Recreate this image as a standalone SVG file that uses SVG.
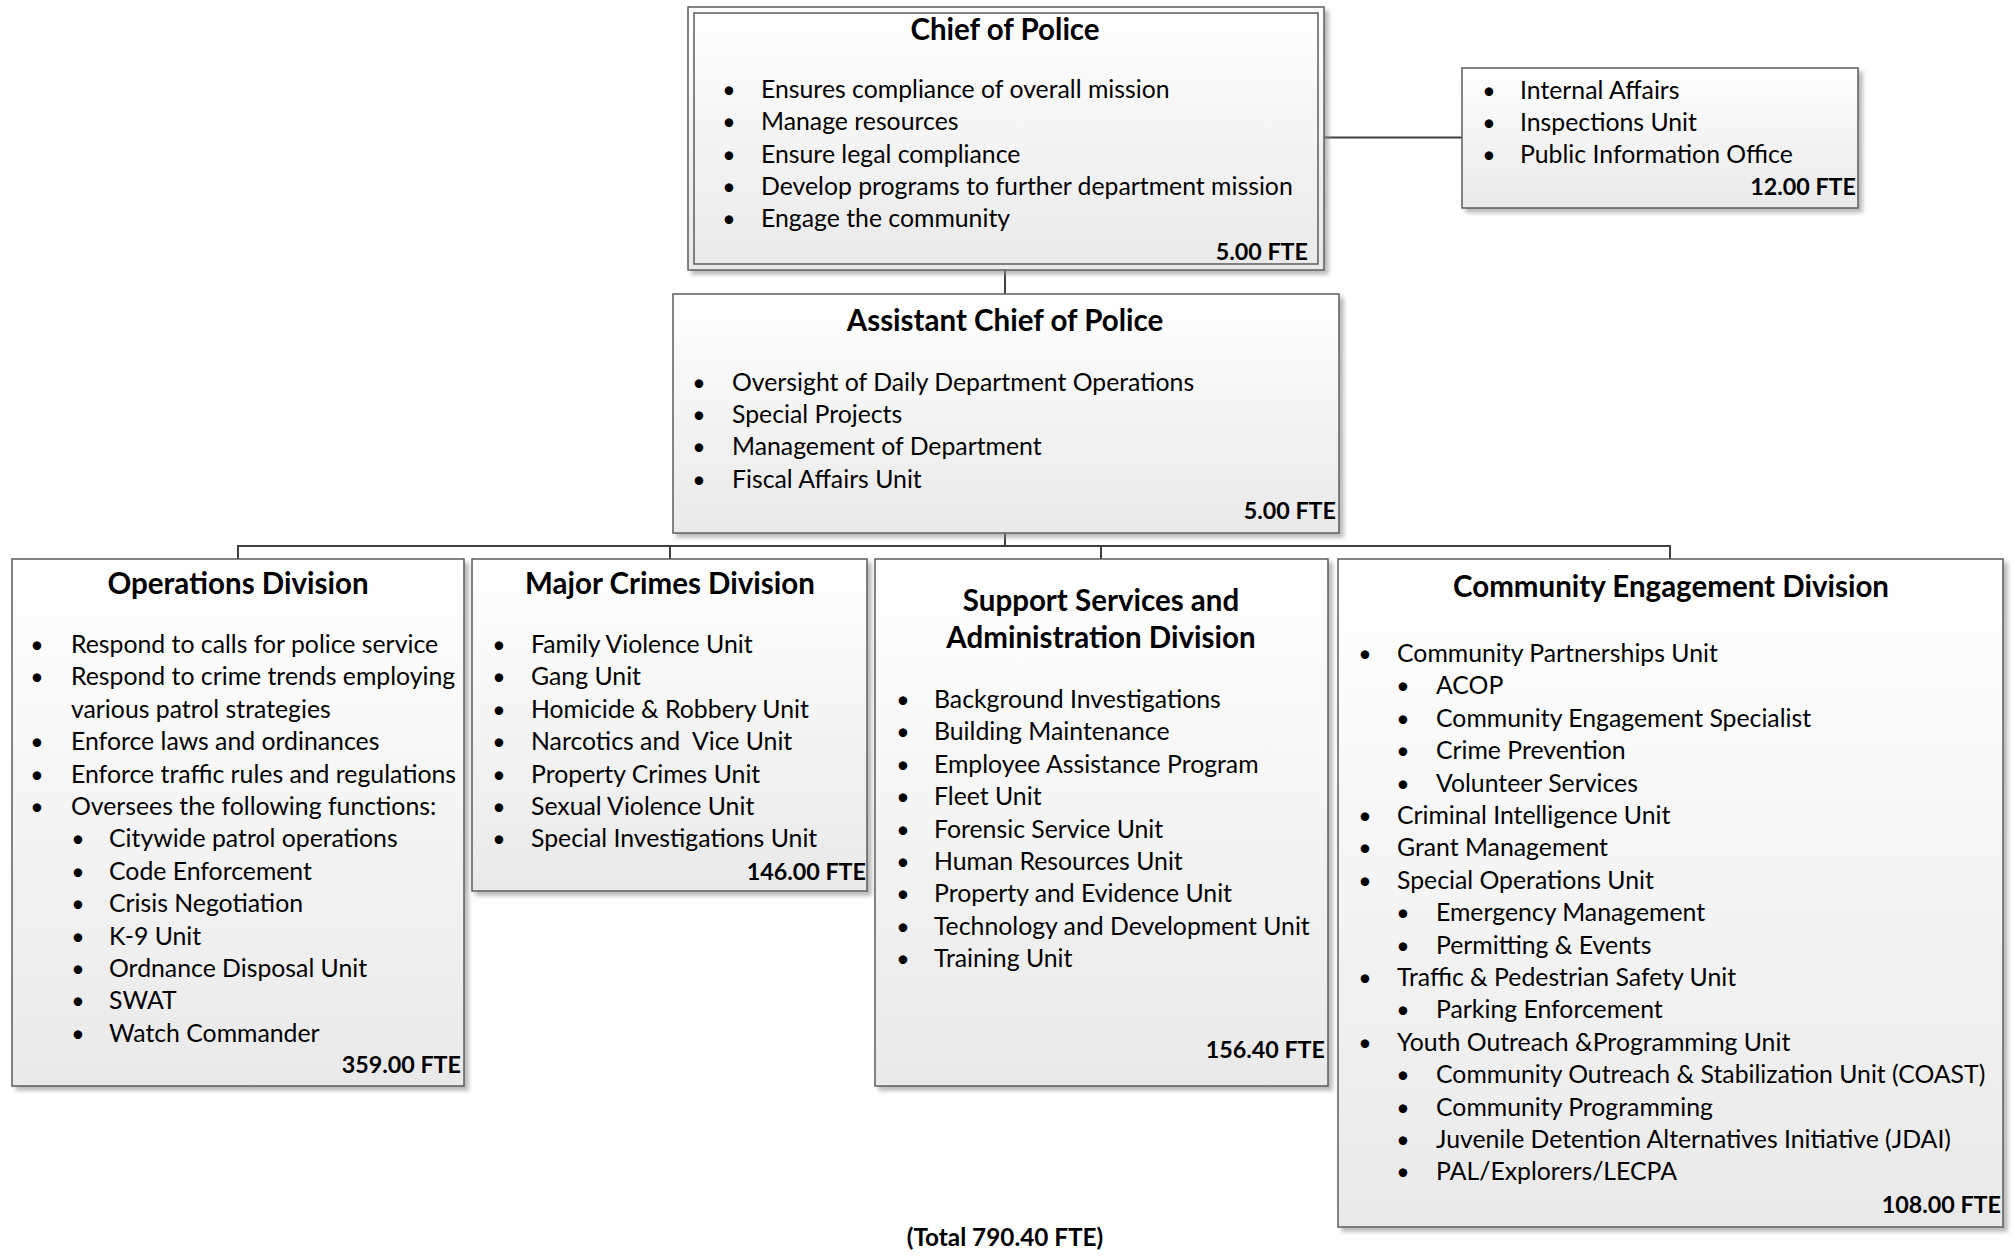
<svg xmlns="http://www.w3.org/2000/svg" width="2015" height="1256" viewBox="0 0 2015 1256">
<defs>
<linearGradient id="g" x1="0" y1="0" x2="0" y2="1">
<stop offset="0" stop-color="#ffffff"/>
<stop offset="1" stop-color="#e9e9e9"/>
</linearGradient>
<filter id="sh" x="-5%" y="-5%" width="115%" height="115%">
<feDropShadow dx="4" dy="4" stdDeviation="2" flood-color="#8c8c8c" flood-opacity="0.6"/>
</filter>
</defs>
<style>
.box{fill:url(#g);stroke:#5c5c5c;stroke-width:1.5;filter:url(#sh)}
.in{fill:none;stroke:#5c5c5c;stroke-width:1.5}
text{font-family:Lato,'Liberation Sans',sans-serif;font-size:24.8px;fill:#000;transform:translateY(2px)}
.h{font-weight:bold;font-size:29.5px;text-anchor:middle}
.f{font-weight:bold;font-size:23.3px;text-anchor:end}
.d{text-anchor:middle;font-size:23px}
.c{fill:none;stroke:#404040;stroke-width:2}
</style>
<rect width="2015" height="1256" fill="#fff"/>
<g id="connectors">
<line class="c" x1="1005" y1="270" x2="1005" y2="294"/>
<line class="c" x1="1324" y1="137.5" x2="1462" y2="137.5"/>
<line class="c" x1="1005" y1="533" x2="1005" y2="546"/>
<polyline class="c" points="238,559 238,546 1670,546 1670,559"/>
<line class="c" x1="670" y1="546" x2="670" y2="559"/>
<line class="c" x1="1101" y1="546" x2="1101" y2="559"/>
</g>
<g id="chief">
<rect class="box" x="688" y="7" width="636" height="263"/>
<rect class="in" x="694" y="13" width="624" height="251"/>
<text class="h" x="1005" y="38">Chief of Police</text>
<text class="d" x="729" y="96">•</text><text x="761" y="96">Ensures compliance of overall mission</text>
<text class="d" x="729" y="128">•</text><text x="761" y="128">Manage resources</text>
<text class="d" x="729" y="161">•</text><text x="761" y="161">Ensure legal compliance</text>
<text class="d" x="729" y="193">•</text><text x="761" y="193">Develop programs to further department mission</text>
<text class="d" x="729" y="225">•</text><text x="761" y="225">Engage the community</text>
<text class="f" x="1308" y="258">5.00 FTE</text>
</g>
<g id="internal">
<rect class="box" x="1462" y="68" width="396" height="140"/>
<text class="d" x="1489" y="97">•</text><text x="1520" y="97">Internal Affairs</text>
<text class="d" x="1489" y="129">•</text><text x="1520" y="129">Inspections Unit</text>
<text class="d" x="1489" y="161">•</text><text x="1520" y="161">Public Information Office</text>
<text class="f" x="1856" y="193">12.00 FTE</text>
</g>
<g id="assistant">
<rect class="box" x="673" y="294" width="666" height="239"/>
<text class="h" x="1005" y="329">Assistant Chief of Police</text>
<text class="d" x="699" y="389">•</text><text x="732" y="389">Oversight of Daily Department Operations</text>
<text class="d" x="699" y="421">•</text><text x="732" y="421">Special Projects</text>
<text class="d" x="699" y="453">•</text><text x="732" y="453">Management of Department</text>
<text class="d" x="699" y="486">•</text><text x="732" y="486">Fiscal Affairs Unit</text>
<text class="f" x="1336" y="517">5.00 FTE</text>
</g>
<g id="operations">
<rect class="box" x="12" y="559" width="452" height="527"/>
<text class="h" x="238" y="592">Operations Division</text>
<text class="d" x="37" y="651">•</text><text x="71" y="651">Respond to calls for police service</text>
<text class="d" x="37" y="683">•</text><text x="71" y="683">Respond to crime trends employing</text>
<text x="71" y="716">various patrol strategies</text>
<text class="d" x="37" y="748">•</text><text x="71" y="748">Enforce laws and ordinances</text>
<text class="d" x="37" y="781">•</text><text x="71" y="781">Enforce traffic rules and regulations</text>
<text class="d" x="37" y="813">•</text><text x="71" y="813">Oversees the following functions:</text>
<text class="d" x="78" y="845">•</text><text x="109" y="845">Citywide patrol operations</text>
<text class="d" x="78" y="878">•</text><text x="109" y="878">Code Enforcement</text>
<text class="d" x="78" y="910">•</text><text x="109" y="910">Crisis Negotiation</text>
<text class="d" x="78" y="943">•</text><text x="109" y="943">K-9 Unit</text>
<text class="d" x="78" y="975">•</text><text x="109" y="975">Ordnance Disposal Unit</text>
<text class="d" x="78" y="1007">•</text><text x="109" y="1007">SWAT</text>
<text class="d" x="78" y="1040">•</text><text x="109" y="1040">Watch Commander</text>
<text class="f" x="461" y="1071">359.00 FTE</text>
</g>
<g id="major">
<rect class="box" x="472" y="559" width="395" height="332"/>
<text class="h" x="670" y="592">Major Crimes Division</text>
<text class="d" x="499" y="651">•</text><text x="531" y="651">Family Violence Unit</text>
<text class="d" x="499" y="683">•</text><text x="531" y="683">Gang Unit</text>
<text class="d" x="499" y="716">•</text><text x="531" y="716">Homicide &amp; Robbery Unit</text>
<text class="d" x="499" y="748">•</text><text x="531" y="748" xml:space="preserve">Narcotics and  Vice Unit</text>
<text class="d" x="499" y="781">•</text><text x="531" y="781">Property Crimes Unit</text>
<text class="d" x="499" y="813">•</text><text x="531" y="813">Sexual Violence Unit</text>
<text class="d" x="499" y="845">•</text><text x="531" y="845">Special Investigations Unit</text>
<text class="f" x="866" y="878">146.00 FTE</text>
</g>
<g id="support">
<rect class="box" x="875" y="559" width="453" height="527"/>
<text class="h" x="1101" y="609">Support Services and</text>
<text class="h" x="1101" y="646">Administration Division</text>
<text class="d" x="903" y="706">•</text><text x="934" y="706">Background Investigations</text>
<text class="d" x="903" y="738">•</text><text x="934" y="738">Building Maintenance</text>
<text class="d" x="903" y="771">•</text><text x="934" y="771">Employee Assistance Program</text>
<text class="d" x="903" y="803">•</text><text x="934" y="803">Fleet Unit</text>
<text class="d" x="903" y="836">•</text><text x="934" y="836">Forensic Service Unit</text>
<text class="d" x="903" y="868">•</text><text x="934" y="868">Human Resources Unit</text>
<text class="d" x="903" y="900">•</text><text x="934" y="900">Property and Evidence Unit</text>
<text class="d" x="903" y="933">•</text><text x="934" y="933">Technology and Development Unit</text>
<text class="d" x="903" y="965">•</text><text x="934" y="965">Training Unit</text>
<text class="f" x="1325" y="1056">156.40 FTE</text>
</g>
<g id="community">
<rect class="box" x="1338" y="559" width="665" height="668"/>
<text class="h" x="1671" y="595">Community Engagement Division</text>
<text class="d" x="1365" y="660">•</text><text x="1397" y="660">Community Partnerships Unit</text>
<text class="d" x="1403" y="692">•</text><text x="1436" y="692">ACOP</text>
<text class="d" x="1403" y="725">•</text><text x="1436" y="725">Community Engagement Specialist</text>
<text class="d" x="1403" y="757">•</text><text x="1436" y="757">Crime Prevention</text>
<text class="d" x="1403" y="790">•</text><text x="1436" y="790">Volunteer Services</text>
<text class="d" x="1365" y="822">•</text><text x="1397" y="822">Criminal Intelligence Unit</text>
<text class="d" x="1365" y="854">•</text><text x="1397" y="854">Grant Management</text>
<text class="d" x="1365" y="887">•</text><text x="1397" y="887">Special Operations Unit</text>
<text class="d" x="1403" y="919">•</text><text x="1436" y="919">Emergency Management</text>
<text class="d" x="1403" y="952">•</text><text x="1436" y="952">Permitting &amp; Events</text>
<text class="d" x="1365" y="984">•</text><text x="1397" y="984">Traffic &amp; Pedestrian Safety Unit</text>
<text class="d" x="1403" y="1016">•</text><text x="1436" y="1016">Parking Enforcement</text>
<text class="d" x="1365" y="1049">•</text><text x="1397" y="1049">Youth Outreach &amp;Programming Unit</text>
<text class="d" x="1403" y="1081">•</text><text x="1436" y="1081">Community Outreach &amp; Stabilization Unit (COAST)</text>
<text class="d" x="1403" y="1114">•</text><text x="1436" y="1114">Community Programming</text>
<text class="d" x="1403" y="1146">•</text><text x="1436" y="1146">Juvenile Detention Alternatives Initiative (JDAI)</text>
<text class="d" x="1403" y="1178">•</text><text x="1436" y="1178">PAL/Explorers/LECPA</text>
<text class="f" x="2001" y="1211">108.00 FTE</text>
</g>
<g id="total">
<text class="h" x="1005" y="1244" style="font-size:24.3px">(Total 790.40 FTE)</text>
</g>
</svg>
